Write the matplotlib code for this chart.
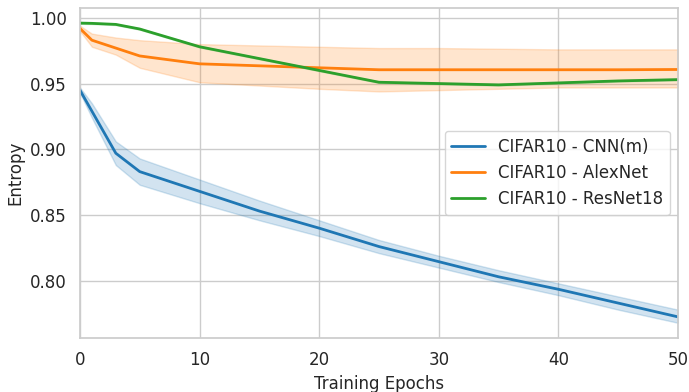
import numpy as np
import matplotlib
matplotlib.use("Agg")
import matplotlib.pyplot as plt
import seaborn as sns

epochs = [0, 1, 3, 5, 10, 15, 20, 25, 30, 35, 40, 45, 50]

# mean entropy and min/max band per model
cnn_mean = [0.945, 0.929, 0.897, 0.883, 0.868, 0.853, 0.840, 0.826, 0.8145, 0.803, 0.7935, 0.783, 0.7725]
cnn_low = [0.943, 0.924, 0.888, 0.873, 0.859, 0.846, 0.834, 0.821, 0.810, 0.799, 0.789, 0.778, 0.768]
cnn_high = [0.947, 0.935, 0.906, 0.893, 0.877, 0.861, 0.846, 0.831, 0.819, 0.808, 0.798, 0.788, 0.778]

alex_mean = [0.992, 0.983, 0.977, 0.971, 0.965, 0.9635, 0.962, 0.9605, 0.9605, 0.9605, 0.9605, 0.9605, 0.9607]
alex_low = [0.990, 0.978, 0.972, 0.962, 0.951, 0.9485, 0.946, 0.944, 0.945, 0.946, 0.947, 0.947, 0.947]
alex_high = [0.994, 0.988, 0.985, 0.983, 0.980, 0.979, 0.978, 0.977, 0.977, 0.9765, 0.976, 0.976, 0.976]

res_mean = [0.996, 0.9958, 0.995, 0.9915, 0.978, 0.969, 0.960, 0.951, 0.950, 0.949, 0.9505, 0.952, 0.953]
res_low = [0.9955, 0.9953, 0.9945, 0.991, 0.9775, 0.9685, 0.9595, 0.9505, 0.9495, 0.9485, 0.950, 0.9515, 0.9525]
res_high = [0.9965, 0.9963, 0.9955, 0.992, 0.9785, 0.9695, 0.9605, 0.9515, 0.9505, 0.9495, 0.951, 0.9525, 0.9535]

labels = ["CIFAR10 - CNN(m)", "CIFAR10 - AlexNet", "CIFAR10 - ResNet18"]

sns.set_theme(style="whitegrid")
fig, ax = plt.subplots(figsize=(6.89, 3.92), dpi=100)

series = [
    (cnn_mean, cnn_low, cnn_high),
    (alex_mean, alex_low, alex_high),
    (res_mean, res_low, res_high),
]
colors = sns.color_palette("tab10", 3)
for (m, lo, hi), c, lab in zip(series, colors, labels):
    ax.plot(epochs, m, color=c, lw=2, label=lab)
    ax.fill_between(epochs, lo, hi, color=c, alpha=0.2, lw=1)

ax.set_xlim(0, 50)
ax.set_ylim(0.7565, 1.0076)
ax.set_yticks([0.80, 0.85, 0.90, 0.95, 1.00])
ax.set_yticklabels(["%.2f" % v for v in [0.80, 0.85, 0.90, 0.95, 1.00]])
ax.tick_params(labelsize=12)
ax.set_xlabel("Training Epochs", fontsize=12)
ax.set_ylabel("Entropy", fontsize=12)
ax.legend(loc="center right", fontsize=12)

fig.subplots_adjust(left=0.116, right=0.984, top=0.98, bottom=0.138)
fig.savefig("out.png", dpi=100)
